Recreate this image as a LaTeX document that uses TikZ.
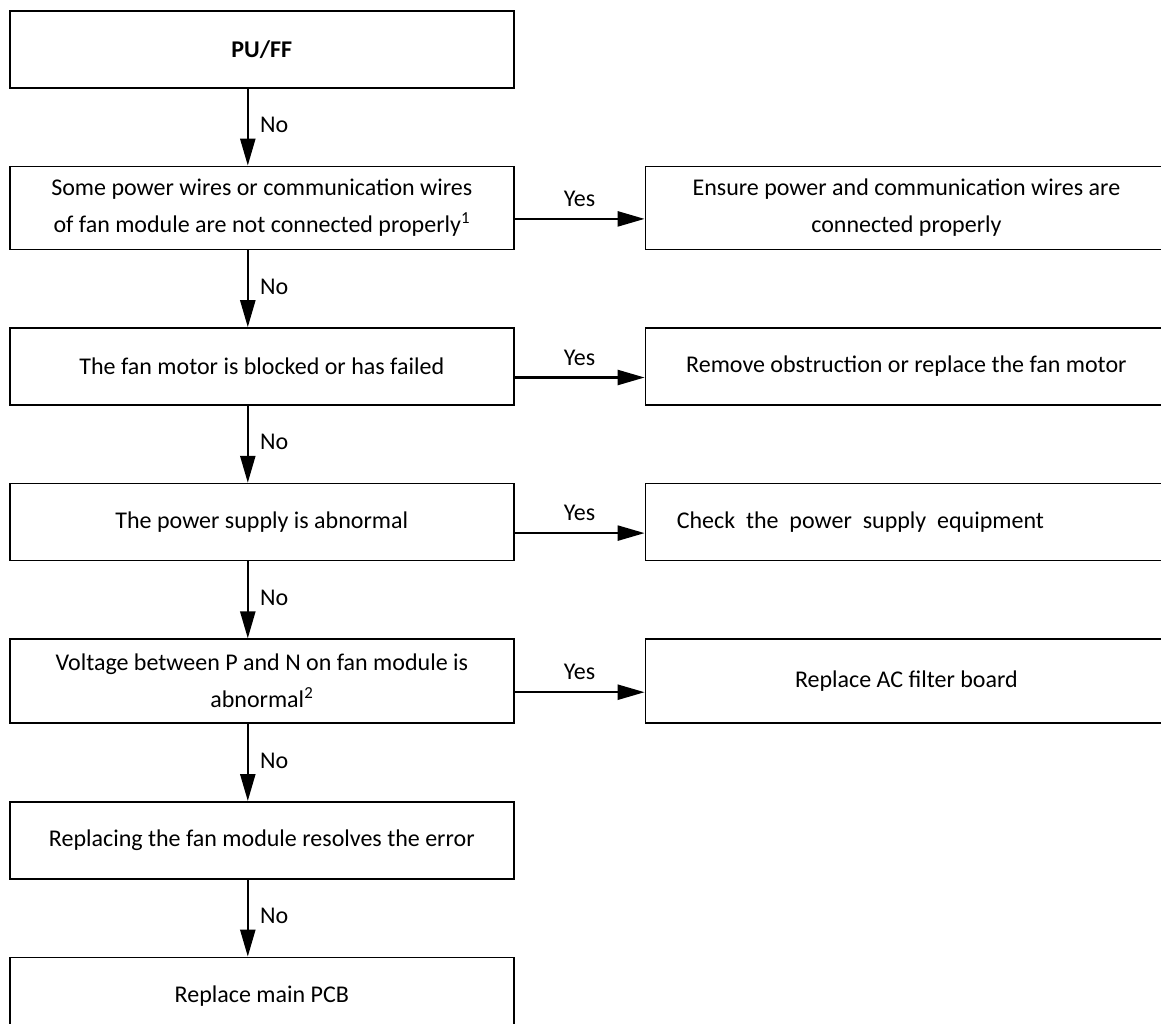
\documentclass[tikz,border=0pt]{standalone}
\usepackage{fontspec}
\setmainfont{Carlito}
\usetikzlibrary{positioning,arrows.meta}

\begin{document}
\begin{tikzpicture}[
        node distance=77pt and 130pt, % gaps between boxes
        every node/.style={font=\fontsize{24}{37}\selectfont},
        box/.style={draw, line width=1.6pt, minimum width=504pt, minimum height=77pt, align=center, inner sep=0pt},
        fixbox/.style={box, minimum width=522pt},
        lbl/.style={inner sep=3pt},
        arr/.style={line width=2.4pt, -{Triangle[length=27pt, width=15pt]}}
    ]
    \path[use as bounding box, clip] (0,0) rectangle (1161pt,-1023pt);

    % Checks
    \node[box, anchor=north west] (pu) at (9pt,-10pt) {\textbf{PU/FF}};
    \node[box, below=of pu, minimum height=83pt] (wires) {Some power wires or communication wires\\ of fan module are not connected properly\textsuperscript{1}};
    \node[box, below=of wires] (motor) {The fan motor is blocked or has failed};
    \node[box, below=of motor] (supply) {The power supply is abnormal};
    \node[box, below=of supply, minimum height=84pt] (voltage) {Voltage between P and N on fan module is\\ abnormal\textsuperscript{2}};
    \node[box, below=of voltage] (module) {Replacing the fan module resolves the error};
    \node[box, below=of module] (pcb) {Replace main PCB};

    % Fixes
    \node[fixbox, right=of wires, minimum height=83pt] (ensure) {Ensure power and communication wires are\\ connected properly};
    \node[fixbox, right=of motor] (remove) {Remove obstruction or replace the fan motor};
    \node[fixbox, right=of supply] (check) {Check~~the~~power~~supply~~equipment\hspace*{92pt}};
    \node[fixbox, right=of voltage, minimum height=84pt] (filter) {Replace AC filter board};

    % No edges
    \draw[arr] ([xshift=-14pt]pu.south) -- ([xshift=-14pt]wires.north) node[lbl, midway, right=8pt, yshift=2pt] {No};
    \draw[arr] ([xshift=-14pt]wires.south) -- ([xshift=-14pt]motor.north) node[lbl, midway, right=8pt, yshift=2pt] {No};
    \draw[arr] ([xshift=-14pt]motor.south) -- ([xshift=-14pt]supply.north) node[lbl, midway, right=8pt, yshift=2pt] {No};
    \draw[arr] ([xshift=-14pt]supply.south) -- ([xshift=-14pt]voltage.north) node[lbl, midway, right=8pt, yshift=2pt] {No};
    \draw[arr] ([xshift=-14pt]voltage.south) -- ([xshift=-14pt]module.north) node[lbl, midway, right=8pt, yshift=2pt] {No};
    \draw[arr] ([xshift=-14pt]module.south) -- ([xshift=-14pt]pcb.north) node[lbl, midway, right=8pt, yshift=2pt] {No};

    % Yes edges
    \draw[arr] ([yshift=-11pt]wires.east) -- ([yshift=-11pt]ensure.west) node[lbl, midway, above=8pt] {Yes};
    \draw[arr] ([yshift=-11pt]motor.east) -- ([yshift=-11pt]remove.west) node[lbl, midway, above=8pt] {Yes};
    \draw[arr] ([yshift=-11pt]supply.east) -- ([yshift=-11pt]check.west) node[lbl, midway, above=8pt] {Yes};
    \draw[arr] ([yshift=-11pt]voltage.east) -- ([yshift=-11pt]filter.west) node[lbl, midway, above=8pt] {Yes};
\end{tikzpicture}
\end{document}
